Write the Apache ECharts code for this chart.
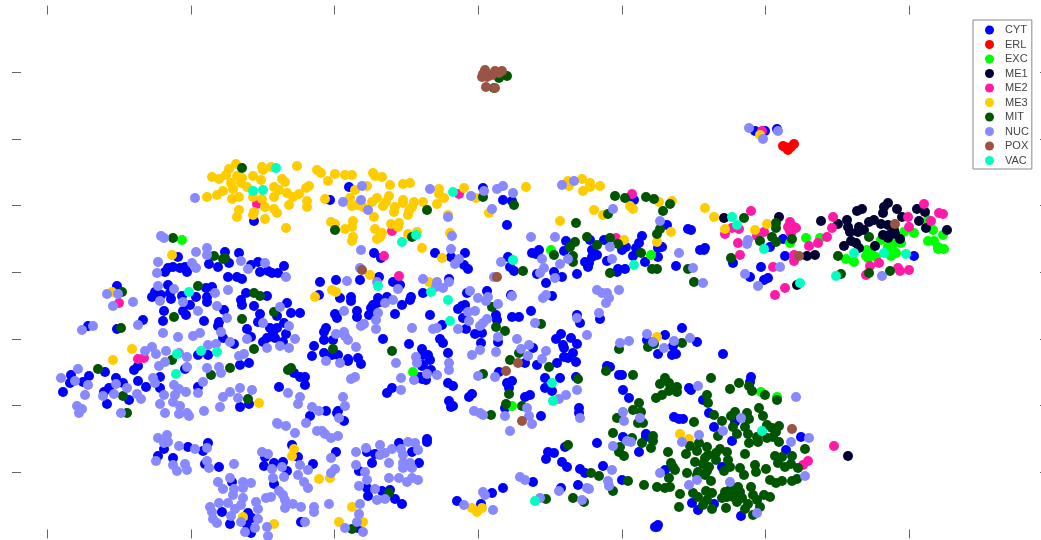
<!DOCTYPE html>
<html>
<head>
<meta charset="utf-8">
<title>Protein localisation embedding</title>
<script src="https://cdn.jsdelivr.net/npm/echarts@6/dist/echarts.min.js"></script>
<style>
  html, body { margin: 0; padding: 0; background: #fff; }
  #chart { width: 1041px; height: 540px; }
</style>
</head>
<body>
<div id="chart"></div>
<script>
// tick marks carry no labels in the picture, units are only relative
const xTicks = [-431, -287, -144, 0, 144, 287, 431];
const yTicks = [-200, -133, -67, 0, 67, 133, 200];

const classNames = ['CYT', 'ERL', 'EXC', 'ME1', 'ME2', 'ME3', 'MIT', 'NUC', 'POX', 'VAC'];
const classColors = ['#0000ff', '#ff0000', '#00ff00', '#000033', '#ff1aa8', '#ffcc00', '#005500', '#8888ff', '#995544', '#00ffc0'];

const CYT = [[-129,85],[-148,72],[-224,51],[5,84],[25,72],[34,71],[29,47],[156,72],[189,47],[210,43],[164,36],[88,31],[112,32],[126,32],[161,29],[158,24],[148,25],[144,22],[180,24],[184,25],[114,22],[119,17],[114,15],[107,10],[111,9],[110,5],[129,11],[155,16],[180,15],[167,10],[222,22],[198,6],[140,3],[147,3],[213,42],[227,24],[226,22],[255,9],[292,25],[305,33],[307,16],[283,5],[272,-5],[286,-8],[290,-6],[436,16],[277,141],[287,141],[299,143],
[-300,15],[-253,20],[-239,19],[-269,8],[-260,5],[-249,9],[-313,0],[-310,4],[-305,5],[-298,4],[-293,5],[-291,0],[-310,-13],[-272,-16],[-266,-15],[-323,-20],[-326,-25],[-317,-23],[-308,-21],[-307,-27],[-296,-24],[-282,-25],[-271,-25],[-271,-30],[-288,-33],[-314,-39],[-295,-39],[-292,-43],[-254,-38],[-315,-49],[-274,-49],[-335,-48],[-361,-14],[-390,-54],[-361,-57],[-259,-50],[-260,-54],[-255,-66],[-280,-83],[-270,-83],[-293,-97],[-340,-94],[-344,-98],[-373,-100],[-389,-104],[-407,-103],[-408,-111],[-395,-110],[-362,-106],[-355,-111],[-340,-109],[-318,-105],[-332,-115],[-318,-116],[-369,-116],[-374,-120],[-415,-120],[-349,-128],[-371,-132],[-280,-115],
[-227,7],[-220,10],[-218,0],[-210,1],[-206,-1],[-200,-1],[-194,6],[-250,-5],[-241,-5],[-236,-7],[-232,-21],[-211,-24],[-237,-28],[-236,-33],[-224,-34],[-191,-31],[-187,-41],[-178,-41],[-218,-42],[-201,-44],[-194,-51],[-220,-50],[-201,-56],[-208,-56],[-231,-57],[-227,-65],[-205,-61],[-192,-62],[-211,-66],[-215,-70],[-203,-66],[-195,-70],[-244,-72],[-238,-93],[-229,-91],[-184,-101],[-178,-105],[-173,-105],[-173,-113],[-199,-115],[-238,-135],[-229,-132],[-168,-144],[-152,-139],[-140,-139],[-141,-141],[-134,-149],[-158,-10],[-142,-8],[-138,-26],[-127,-25],[-127,-29],[-159,-23],[-143,-42],[-141,-46],[-121,-39],[-121,-45],[-109,-43],[-118,-8],[-152,-56],[-154,-60],[-154,-68],[-145,-68],[-164,-74],[-166,-84],[-154,-81],[-146,-83],[-140,-83],[-130,-87],[-130,-89],[-120,-86],[-117,-92],[-95,-67],[-69,-72],[-91,-121],[-86,-116],[-56,-77],[-55,-93],[-56,-107],[-104,19],[-97,14],[-99,-5],[-85,-10],[-78,-13],[-76,-33],[-67,-25],[-68,-28],[-55,-21],[-83,-42],[-105,-33],[-107,-36],[-100,-26],[-96,-30],[-101,-31],[-91,-25],
[-43,19],[-27,15],[-13,19],[-14,7],[-10,3],[30,15],[32,5],[36,1],[54,19],[61,22],[58,18],[86,21],[76,0],[59,-2],[84,-5],[68,-11],[99,-2],[139,0],[-29,-7],[-11,-21],[9,-19],[33,-23],[74,-24],[-16,-34],[-20,-37],[-13,-33],[-48,-43],[-15,-46],[-36,-53],[-12,-57],[-3,-62],[4,-61],[18,-43],[19,-48],[34,-45],[41,-45],[53,-39],[99,-43],[102,-51],[122,-47],[20,-70],[3,-71],[-38,-67],[-35,-71],[83,-62],[78,-67],[93,-66],[85,-73],[86,-76],[99,-72],[95,-81],[86,-85],[90,-86],[98,-90],[55,-76],[79,-91],[59,-93],[47,-91],[-30,-81],[-55,-83],[-50,-83],[-48,-88],[-56,-94],[-47,-98],[-58,-105],[-52,-108],[-30,-111],[-25,-114],[21,-100],[34,-109],[29,-111],[31,-116],[67,-106],[67,-116],[82,-106],[74,-119],[98,-105],[-6,-122],[-9,-125],[-29,-129],[-27,-135],[-25,-134],[47,-125],[52,-123],[101,-136],[101,-141],[63,-144],[129,-94],[141,-103],[-51,-167],[27,-136],
[-314,-177],[-320,-184],[-305,-186],[-290,-175],[-275,-179],[-270,-171],[-273,-192],[-259,-195],[-246,-210],[-256,-240],[-248,-252],[-230,-241],[-226,-246],[-231,-253],[-227,-261],[-186,-173],[-213,-185],[-180,-185],[-214,-194],[-204,-191],[-195,-190],[-191,-199],[-204,-212],[-165,-192],[-142,-180],[-177,-250],[-119,-199],[-111,-180],[-103,-182],[-106,-191],[-79,-171],[-66,-180],[-59,-191],[-51,-170],[-111,-216],[-110,-224],[-96,-219],[-88,-218],[-83,-227],[-76,-232],[-120,-256],
[70,-180],[76,-181],[68,-187],[87,-175],[119,-171],[84,-190],[89,-195],[102,-197],[107,-201],[125,-194],[144,-208],[100,-213],[83,-216],[145,-165],[168,-162],[161,-180],[187,-198],[55,-210],[25,-216],[14,-221],[-21,-229],[3,-232],[179,-255],[180,-253],[177,-255],
[204,-56],[187,-63],[169,-68],[195,-74],[219,-70],[180,-82],[194,-83],[198,-82],[245,-82],[144,-103],[132,-95],[145,-118],[151,-126],[273,-105],[272,-110],[211,-116],[213,-118],[225,-128],[231,-141],[196,-145],[201,-147],[205,-147],[257,-150],[236,-155],[168,-165],[254,-169],[308,-178],[323,-165],[244,-195],[214,-231],[220,-238],[236,-232],[263,-244]];

const ERL = [[307,125],[310,122],[313,125],[316,128],[305,126]];

const EXC = [[328,34],[342,34],[312,29],[426,40],[436,39],[455,42],[465,37],[450,31],[456,31],[460,25],[466,23],[460,23],[403,32],[410,25],[415,28],[423,29],[389,22],[393,20],[388,16],[390,14],[398,15],[410,20],[413,16],[418,19],[368,13],[376,10],[450,52],[73,22],[173,17],[-296,32],[-65,-100],[34,-134],[283,-120],[299,-125]];

const ME1 = [[246,54],[301,55],[329,16],[337,17],[343,51],[360,48],[369,52],[370,45],[372,40],[381,45],[380,40],[386,42],[391,50],[396,52],[379,61],[384,63],[403,48],[405,59],[406,65],[410,69],[419,63],[424,55],[410,47],[416,42],[405,37],[411,37],[410,34],[417,38],[422,33],[373,31],[378,29],[381,24],[366,26],[397,26],[439,63],[447,60],[441,51],[448,44],[469,42],[319,-13],[370,-184]];

const ME2 = [[273,61],[247,38],[254,44],[261,43],[260,29],[262,17],[279,36],[286,40],[284,141],[312,50],[310,45],[316,45],[312,41],[318,44],[313,39],[331,26],[340,29],[349,35],[354,44],[355,55],[316,17],[316,11],[295,5],[307,-16],[297,-23],[430,55],[431,45],[446,68],[453,51],[461,59],[465,58],[392,6],[401,9],[388,-3],[420,4],[422,1],[431,2],[154,78],[-19,78],[-86,41],[-94,16],[138,34],[-221,68],[-359,-31],[-340,-87],[-334,-86],[-79,-4],[356,-174],[330,-189],[325,-193]];

const ME3 = [[-242,108],[-249,103],[-252,97],[-259,93],[-266,95],[-241,96],[-236,94],[-247,89],[-237,89],[-245,83],[-255,81],[-261,77],[-271,75],[-246,73],[-239,75],[-231,85],[-225,96],[-217,92],[-225,75],[-216,73],[-213,65],[-239,62],[-224,60],[-225,57],[-241,55],[-213,53],[-192,44],[-216,105],[-215,102],[-207,105],[-181,106],[-196,93],[-193,90],[-204,85],[-199,82],[-204,75],[-191,79],[-185,75],[-179,78],[-189,67],[-172,84],[-169,86],[-171,71],[-171,65],[-204,63],[-201,59],[-161,102],[-157,99],[-143,98],[-150,91],[-133,97],[-153,73],[-147,50],[-143,48],[-133,43],[-306,17],
[-126,97],[-105,99],[-103,96],[-96,95],[-88,87],[-75,88],[-68,89],[-111,86],[-123,82],[-128,74],[-101,74],[-106,70],[-89,76],[-92,70],[-95,66],[-75,72],[-75,69],[-83,65],[-84,60],[-64,70],[-66,65],[-69,61],[-70,57],[-55,70],[-41,68],[-115,65],[-121,67],[-126,66],[-104,55],[-125,51],[-126,45],[-125,35],[-126,31],[-87,48],[-79,49],[-80,45],[-103,43],[-96,39],[-98,35],[-101,33],[-70,38],[-61,40],[-56,24],[-39,83],[-39,78],[-34,74],[-14,84],[-2,74],[-30,57],[-28,39],[-36,14],[11,59],[48,85],[90,91],[91,86],[104,93],[112,89],[112,85],[105,81],[122,86],[116,62],[125,57],[82,51],[152,66],[155,63],[181,70],[194,71],[193,40],[179,30],[146,32],
[227,64],[236,55],[247,43],[277,42],[289,48],[282,137],[-366,-20],[-346,-77],[-365,-88],[-108,-3],[-146,-18],[-142,-20],[-163,-25],[-219,-131],[-49,-10],[-184,-177],[-186,-184],[-159,-207],[-148,-206],[-204,-252],[-235,-245],[-126,-235],[-139,-250],[-115,-250],[-6,-236],[-1,-240],[4,-236],[179,-65],[202,-162],[211,-167]];

const MIT = [[-236,104],[-143,42],[-305,34],[-264,16],[-255,13],[-51,62],[5,75],[36,67],[-66,35],[137,76],[147,74],[168,75],[176,73],[192,68],[185,61],[130,58],[98,49],[109,35],[132,34],[97,30],[92,25],[119,27],[140,28],[76,17],[95,16],[95,10],[163,19],[182,43],[179,38],[45,1],[174,3],[179,3],[210,3],[21,194],[29,196],[16,184],
[266,54],[253,14],[298,49],[298,44],[282,31],[294,35],[298,30],[314,33],[216,-10],[360,16],[391,35],[412,1],[391,-1],[363,-2],
[-280,-14],[-304,-45],[-356,-20],[-357,-56],[-380,-97],[-306,-88],[-267,-103],[-355,-124],[-351,-141],[-248,-96],[-253,14],[-224,-21],[-218,-24],[-204,-40],[-236,-47],[-224,-77],[-190,-98],[-187,-96],[-145,-77],[-86,-79],[-230,-127],
[132,-1],[14,-35],[63,-52],[18,-55],[27,-59],[41,-81],[32,-88],[71,-95],[5,-102],[100,-107],[128,-99],[31,-122],[28,-132],[44,-134],[13,-143],[139,-146],[-89,-221],[-126,-257],[90,-173],[113,-201],[121,-204],[95,-226],[68,-227],[106,-230],
[141,-77],[170,-75],[176,-72],[204,-71],[155,-103],[187,-106],[182,-112],[191,-111],[199,-115],[199,-120],[191,-119],[184,-123],[178,-126],[233,-106],[261,-111],[252,-117],[271,-114],[274,-119],[287,-123],[299,-128],[229,-123],[230,-131],[161,-131],[155,-138],[163,-140],[160,-151],[165,-151],[236,-143],[216,-150],[244,-149],[253,-144],[257,-140],[269,-141],[271,-147],[281,-136],[285,-144],[267,-155],[255,-155],[259,-162],[240,-164],[270,-162],[289,-153],[294,-156],[301,-154],[298,-160],[279,-165],[295,-165],[289,-166],[271,-171],[280,-170],[301,-170],[175,-164],[175,-169],[164,-171],[173,-176],[154,-166],[142,-175],[141,-180],[146,-184],[135,-161],[190,-180],[327,-177],[314,-184],[297,-184],[304,-185],[267,-182],
[212,-174],[221,-171],[229,-175],[208,-182],[219,-179],[242,-177],[249,-180],[238,-181],[230,-183],[227,-186],[238,-188],[250,-188],[217,-190],[225,-192],[231,-195],[252,-195],[246,-199],[193,-191],[195,-195],[197,-198],[229,-199],[220,-200],[209,-201],[227,-203],[219,-203],[262,-196],[266,-203],[277,-193],[278,-200],[288,-197],[300,-191],[307,-195],[313,-192],[320,-196],[292,-208],[298,-211],[304,-209],[314,-209],[319,-207],[191,-206],[179,-215],[187,-216],[192,-215],[166,-213],[150,-209],[135,-219],[233,-209],[273,-215],[202,-222],[201,-235],[215,-221],[220,-225],[228,-219],[234,-221],[229,-228],[225,-233],[234,-237],[248,-236],[247,-220],[252,-218],[257,-216],[260,-215],[262,-220],[244,-226],[249,-225],[255,-225],[259,-230],[264,-226],[270,-232],[267,-237],[275,-223],[286,-223],[292,-225],[282,-235],[279,-228],[275,-243]];

const NUC = [[-283,74],[-135,70],[-116,86],[-117,72],[-110,62],[-117,22],[-48,83],[-7,76],[6,81],[19,83],[25,86],[35,79],[14,63],[-30,55],[-26,36],[53,35],[77,35],[84,87],[96,91],[135,63],[132,25],[201,19],[182,51],[215,4],[271,144],[285,133],[300,141],[270,32],[269,28],[225,-11],[302,5],[267,-2],[280,-14],[404,-4],
[-317,36],[-314,34],[-282,20],[-271,24],[-271,17],[-320,10],[-286,9],[-282,4],[-321,-1],[-320,-14],[-304,-17],[-263,-21],[-371,-22],[-360,-22],[-345,-30],[-365,-34],[-318,-29],[-295,-30],[-261,-34],[-280,-39],[-250,-18],[-251,-46],[-340,-53],[-385,-54],[-396,-58],[-315,-61],[-300,-65],[-285,-64],[-278,-61],[-257,-60],[-248,-70],[-270,-73],[-262,-72],[-326,-75],[-333,-79],[-322,-82],[-312,-79],[-313,-90],[-319,-94],[-291,-85],[-299,-81],[-291,-95],[-271,-96],[-259,-95],[-257,-101],[-400,-97],[-417,-106],[-403,-109],[-390,-113],[-362,-112],[-351,-116],[-325,-106],[-323,-111],[-304,-113],[-275,-110],[-299,-117],[-292,-120],[-280,-121],[-314,-123],[-393,-123],[-375,-124],[-364,-122],[-341,-122],[-337,-127],[-303,-123],[-305,-130],[-318,-132],[-255,-125],[-258,-135],[-248,-120],[-401,-134],[-396,-137],[-399,-141],[-357,-141],[-313,-141],[-298,-134],[-299,-142],[-291,-141],[-289,-144],[-274,-139],
[-237,11],[-230,3],[-213,9],[-192,-5],[-198,-35],[-215,-51],[-189,-54],[-231,-67],[-183,-67],[-211,-76],[-198,-74],[-189,-76],[-239,-84],[-234,-82],[-238,-116],[-226,-118],[-240,-126],[-190,-121],[-178,-125],[-180,-132],[-166,-135],[-159,-139],[-135,-125],[-133,-134],[-139,-146],[-201,-151],[-172,-151],[-142,-62],[-134,-60],[-133,-64],[-130,-68],[-122,-75],[-152,-89],[-138,-91],[-134,-39],[-131,-9],[-118,4],[-101,-10],[-80,-17],[-93,-31],[-85,-28],[-100,-41],[-102,-48],[-114,-52],[-117,-54],[-102,-57],[-66,-56],[-62,-85],[-61,-91],[-82,-91],[-77,-106],[-64,-108],[-77,-118],[-123,-105],[-127,-107],[-55,-7],
[-27,23],[23,10],[-19,13],[-23,8],[64,13],[82,8],[90,13],[66,4],[62,-1],[77,-6],[134,13],[16,-5],[-41,-10],[-42,-15],[-35,-16],[-29,-10],[-8,-19],[0,-26],[10,-25],[8,-29],[34,-24],[20,-32],[68,-23],[65,-26],[-10,-40],[-3,-39],[-9,-49],[9,-47],[5,-51],[2,-54],[-20,-57],[-41,-56],[-45,-57],[20,-65],[39,-67],[57,-51],[99,-46],[121,-41],[119,-18],[124,-21],[129,-21],[131,-26],[128,-31],[141,-18],[109,-63],[2,-78],[-6,-83],[18,-80],[43,-77],[51,-73],[50,-84],[68,-79],[64,-87],[0,-104],[17,-105],[99,-118],[88,-123],[81,-127],[-4,-139],[2,-141],[5,-143],[27,-144],[49,-136],[51,-144],[54,-152],[32,-159],[102,-146],[-29,-91],[-29,-98],[-41,-103],[-51,-102],
[-320,-166],[-311,-163],[-310,-170],[-314,-171],[-322,-189],[-299,-174],[-283,-177],[-271,-176],[-271,-189],[-269,-196],[-305,-193],[-301,-199],[-293,-192],[-291,-198],[-244,-192],[-260,-210],[-255,-217],[-248,-206],[-235,-210],[-227,-211],[-244,-217],[-245,-223],[-235,-216],[-235,-226],[-237,-233],[-250,-231],[-259,-231],[-268,-235],[-266,-240],[-265,-247],[-261,-251],[-247,-244],[-243,-237],[-222,-230],[-220,-237],[-237,-250],[-220,-247],[-223,-256],[-233,-260],[-211,-255],[-210,-264],[-212,-226],[-207,-225],[-199,-219],[-195,-223],[-193,-228],[-193,-236],[-185,-232],[-177,-235],[-164,-235],[-164,-240],[-149,-232],[-173,-250],[-205,-206],[-206,-197],[-194,-205],[-196,-195],[-216,-180],[-210,-182],[-178,-193],[-180,-203],[-170,-198],[-174,-210],[-170,-216],[-147,-186],[-143,-197],[-147,-201],[-200,-152],[-192,-154],[-183,-161],[-161,-159],[-156,-159],[-153,-162],[-147,-166],[-140,-164],
[-122,-180],[-112,-176],[-98,-173],[-98,-183],[-93,-181],[-86,-177],[-89,-191],[-77,-177],[-75,-183],[-70,-170],[-63,-171],[-60,-178],[-75,-191],[-75,-196],[-68,-191],[-66,-196],[-122,-193],[-113,-200],[-111,-208],[-89,-206],[-79,-206],[-71,-210],[-66,-206],[-60,-208],[-119,-214],[-103,-217],[-101,-228],[-93,-227],[-118,-232],[-119,-242],[-121,-250],[-133,-256],[-115,-260],
[42,-205],[47,-208],[5,-220],[7,-223],[-14,-233],[15,-238],[81,-219],[62,-226],[109,-216],[111,-217],[104,-228],[134,-198],[130,-209],[131,-214],
[169,-62],[175,-70],[142,-71],[151,-69],[186,-76],[196,-69],[212,-66],[220,-114],[145,-140],[146,-149],[162,-146],[149,-169],[153,-170],[135,-174],[204,-170],[221,-163],[245,-159],[263,-146],[182,-201],[211,-213],[219,-208],[252,-210],[318,-125],[331,-166],[313,-170],[327,-204],[279,-241]];

const POX = [[7,202],[17,201],[24,201],[4,195],[9,195],[14,197],[8,185],[17,184],[21,199],[5,198],[-116,2],[19,-5],[40,-91],[28,-99],[44,-149],[417,48],[321,16],[314,-157]];

const VAC = [[-202,104],[-225,81],[-215,82],[-25,80],[-62,37],[-76,30],[35,12],[156,7],[254,55],[259,47],[286,23],[376,19],[406,19],[428,18],[358,-4],[322,-11],[-289,-20],[-301,-82],[-277,-79],[-261,-80],[-302,-102],[-100,-14],[-47,-20],[-30,-28],[-28,-49],[74,-111],[75,-129],[57,-229],[284,-159]];

const classPoints = [CYT, ERL, EXC, ME1, ME2, ME3, MIT, NUC, POX, VAC];

const myChart = echarts.init(document.getElementById('chart'));

function xAxisAt(position) {
  return {
    type: 'value',
    position: position,
    min: -466,
    max: 563,
    axisLine: { show: false, onZero: false },
    splitLine: { show: false },
    axisLabel: { show: false },
    axisTick: { show: true, inside: true, length: 9, customValues: xTicks, lineStyle: { color: '#666', width: 1 } }
  };
}

function yAxisAt(position, offset) {
  return {
    type: 'value',
    position: position,
    offset: offset,
    min: -266.4,
    max: 266.4,
    axisLine: { show: false, onZero: false },
    splitLine: { show: false },
    axisLabel: { show: false },
    axisTick: { show: true, inside: true, length: 9, customValues: yTicks, lineStyle: { color: '#666', width: 1 } }
  };
}

myChart.setOption({
  animation: false,
  backgroundColor: '#fff',
  grid: { left: 12, right: 0, top: 5.6, bottom: 1.6 },
  xAxis: [xAxisAt('bottom'), xAxisAt('top')],
  yAxis: [yAxisAt('left', 0), yAxisAt('right', 8)],
  legend: {
    orient: 'vertical',
    left: 973,
    top: 20,
    padding: [3.5, 3, 2, 12],
    itemWidth: 9,
    itemHeight: 9,
    itemGap: 1.5,
    icon: 'circle',
    backgroundColor: '#fff',
    borderColor: '#888',
    borderWidth: 1,
    borderRadius: 0,
    textStyle: { fontFamily: 'Liberation Sans', fontSize: 11, color: '#444', padding: [0, 0, 0, 6], lineHeight: 13 },
    data: classNames
  },
  series: classNames.map((name, i) => ({
    name: name,
    type: 'scatter',
    symbol: 'circle',
    symbolSize: 10,
    itemStyle: { color: classColors[i], opacity: 1 },
    data: classPoints[i]
  }))
});
</script>
</body>
</html>
